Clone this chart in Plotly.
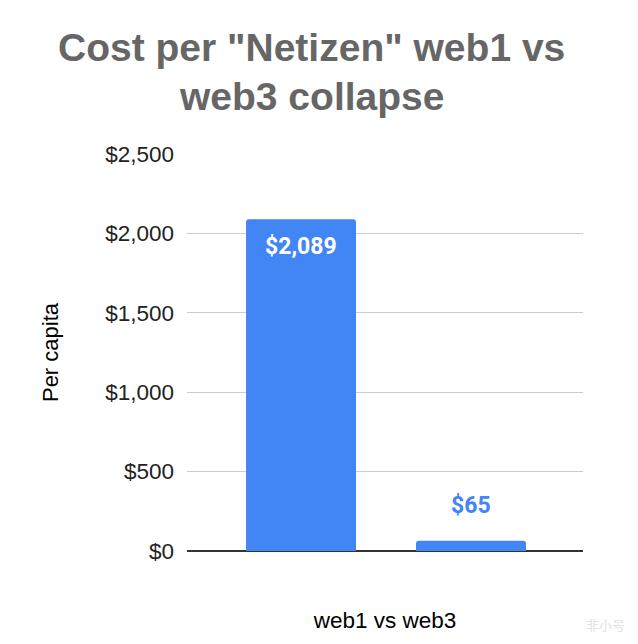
import plotly.graph_objects as go

# Data
categories = ["web1", "web3"]
values = [2089, 65]
value_labels = ["$2,089", "$65"]
y_ticks = [0, 500, 1000, 1500, 2000, 2500]
y_tick_labels = ["$0", "$500", "$1,000", "$1,500", "$2,000", "$2,500"]
title_lines = ["Cost per \"Netizen\" web1 vs", "web3 collapse"]

BLUE = "#4285F4"
W, H = 630, 636
ML, MT, MR = 179, 146, 55
PH = 397
MB = H - MT - PH

fig = go.Figure()
fig.add_trace(go.Bar(
    x=categories, y=values, marker=dict(color=BLUE, line=dict(width=0)),
    width=0.647, hoverinfo="skip",
))

title_x = (311 - 8 - ML) / 396

annotations = [
    dict(x=categories[0], y=values[0], xref="x", yref="y",
         text="<b>" + value_labels[0] + "</b>", showarrow=False,
         yanchor="top", yshift=-12,
         font=dict(family="Roboto", size=23, color="white")),
    dict(x=categories[1], y=values[1], xref="x", yref="y",
         text="<b>" + value_labels[1] + "</b>", showarrow=False,
         yanchor="bottom", yshift=20,
         font=dict(family="Roboto", size=23, color=BLUE)),
    dict(x=title_x, y=1.2695, xref="paper", yref="paper", xanchor="center", yanchor="middle",
         text="<b>" + title_lines[0] + "</b>", showarrow=False,
         font=dict(family="Liberation Sans, Arial", size=39, color="#666666")),
    dict(x=title_x, y=1.1449, xref="paper", yref="paper", xanchor="center", yanchor="middle",
         text="<b>" + title_lines[1] + "</b>", showarrow=False,
         font=dict(family="Liberation Sans, Arial", size=39, color="#666666")),
    dict(x=1.11, y=-0.186, xref="paper", yref="paper", xanchor="right", yanchor="middle",
         text="非小号", showarrow=False,
         font=dict(family="Noto Sans CJK SC", size=13, color="#e2e2e2")),
]

fig.update_layout(
    width=W, height=H,
    paper_bgcolor="white", plot_bgcolor="white",
    margin=dict(l=ML, r=MR, t=MT, b=MB),
    showlegend=False,
    barcornerradius=3,
    annotations=annotations,
)

fig.update_xaxes(
    range=[-0.671, 1.659], showticklabels=False, showgrid=False, ticks="",
    title=dict(text="web1 vs web3", standoff=61,
               font=dict(family="Liberation Sans, Arial", size=22.5, color="#000000")),
    showline=False, zeroline=False,
)
fig.update_yaxes(
    range=[0, 2500], tickvals=y_ticks, ticktext=y_tick_labels,
    tickfont=dict(family="Liberation Sans, Arial", size=22.5, color="#222222"),
    showgrid=True, gridcolor="#cccccc", gridwidth=1.3,
    zeroline=True, zerolinecolor="#333333", zerolinewidth=2,
    ticks="", ticklabelstandoff=12,
    title=dict(text="Per capita", standoff=40,
               font=dict(family="Liberation Sans, Arial", size=22, color="#000000")),
)

fig.write_html("out.html")
